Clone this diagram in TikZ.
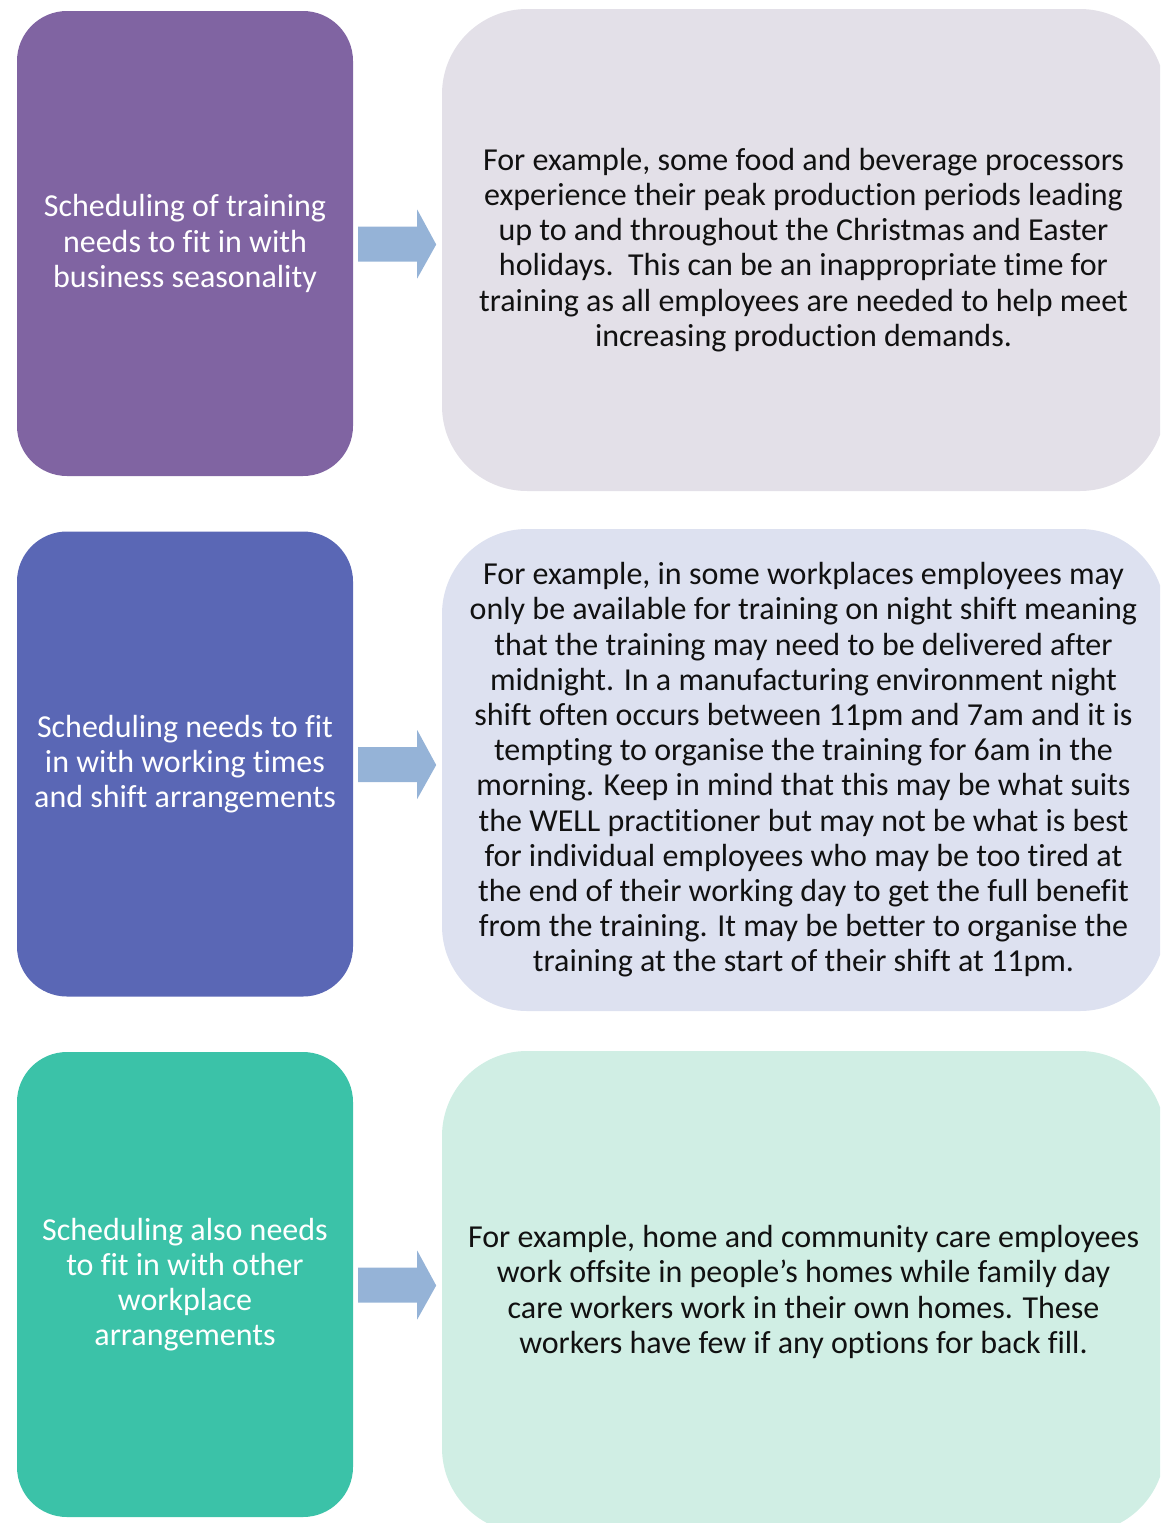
\documentclass[tikz,border=0pt]{standalone}
\usepackage{fontspec}
\setmainfont{Carlito}[RawFeature={-liga;-clig;-calt;-dlig}]
\usetikzlibrary{calc}

\definecolor{topleft}{HTML}{8064A2}
\definecolor{midleft}{HTML}{5A67B5}
\definecolor{lowleft}{HTML}{3BC2A8}
\definecolor{topright}{HTML}{E3E0E8}
\definecolor{midright}{HTML}{DDE1F0}
\definecolor{lowright}{HTML}{D0EEE4}
\definecolor{arrowblue}{HTML}{95B3D7}
\definecolor{bodytext}{HTML}{111111}

\tikzset{
  leftbox/.style={draw=none, minimum width=336pt, minimum height=465pt,
    rounded corners=50pt, inner sep=0pt, text=white, align=center,
    font=\fontsize{32}{35.2}\selectfont},
  rightbox/.style={draw=none, minimum width=723pt, minimum height=482pt,
    rounded corners=85pt, inner sep=0pt, text=bodytext, align=center,
    font=\fontsize{32}{35.2}\selectfont},
  blockarrow/.style={fill=arrowblue, draw=none}
}

\newcommand{\linkarrow}[1]{%
  \fill[blockarrow] ($(#1.east)+(5,-17)$) -- ($(#1.east)+(64,-17)$)
    -- ($(#1.east)+(64,-34)$) -- ($(#1.east)+(83,1)$)
    -- ($(#1.east)+(64,35)$) -- ($(#1.east)+(64,18)$)
    -- ($(#1.east)+(5,18)$) -- cycle;}

\begin{document}
\begin{tikzpicture}[x=1pt,y=-1pt]
  \useasboundingbox (0,0) rectangle (1160,1523);
  \clip (0,0) rectangle (1160,1523);

  % left column: topics
  \node[leftbox, fill=topleft] (l1) at (185,243.5)
    {Scheduling of training\\needs to fit in with\\business seasonality};
  \node[leftbox, fill=midleft] (l2) at (185,764)
    {Scheduling needs to fit\\in with working times\\and shift arrangements};
  \node[leftbox, fill=lowleft] (l3) at (185,1284.5)
    {Scheduling also needs\\to fit in with other\\workplace\\arrangements};

  % right column: examples
  \node[rightbox, fill=topright] (r1) at (803.5,250)
    {For example, some food and beverage processors\\
     experience their peak production periods leading\\
     up to and throughout the Christmas and Easter\\
     holidays.\ \ This can be an inappropriate time for\\
     training as all employees are needed to help meet\\
     increasing production demands.};
  \node[rightbox, fill=midright] (r2) at (803.5,770)
    {For example, in some workplaces employees may\\
     only be available for training on night shift meaning\\
     that the training may need to be delivered after\\
     midnight. In a manufacturing environment night\\
     shift often occurs between 11pm and 7am and it is\\
     tempting to organise the training for 6am in the\\
     morning. Keep in mind that this may be what suits\\
     the WELL practitioner but may not be what is best\\
     for individual employees who may be too tired at\\
     the end of their working day to get the full benefit\\
     from the training. It may be better to organise the\\
     training at the start of their shift at 11pm.};
  \node[rightbox, fill=lowright] (r3) at (803.5,1292)
    {For example, home and community care employees\\
     work offsite in people’s homes while family day\\
     care workers work in their own homes. These\\
     workers have few if any options for back fill.};

  % block arrows linking each topic to its example
  \linkarrow{l1}
  \linkarrow{l2}
  \linkarrow{l3}
\end{tikzpicture}
\end{document}
